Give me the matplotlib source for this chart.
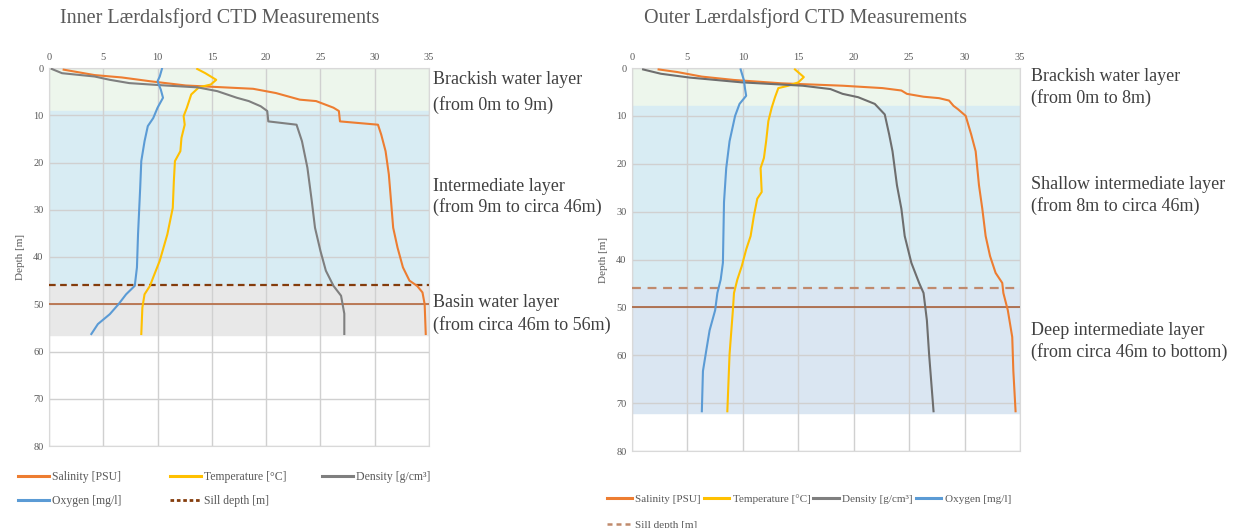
import numpy as np
import matplotlib.pyplot as plt
from matplotlib.lines import Line2D

plt.rcParams['font.family'] = ['Liberation Serif', 'DejaVu Serif']

# Inner fjord profiles (value, depth in m)
inner_sal_depth = [0.35, 1.5, 2.0, 2.8, 3.7, 4.4, 5.3, 6.7, 7.0, 8.4, 9.1, 11.3, 12.0, 14.1, 17.6, 22.5, 28.1, 33.8, 38.0, 42.2, 45.0, 46.1, 47.5, 50.0, 56.3]
inner_sal = [1.35, 4.2, 6.7, 9.3, 12.6, 18.8, 20.9, 23.1, 24.6, 26.2, 26.7, 26.8, 30.3, 30.6, 31.0, 31.3, 31.5, 31.7, 32.1, 32.6, 33.2, 33.9, 34.4, 34.6, 34.7]

inner_den_depth = [0.2, 1.1, 1.8, 2.5, 3.2, 3.7, 4.1, 4.9, 6.3, 7.0, 8.1, 9.1, 11.3, 12.0, 15.5, 21.1, 28.1, 33.8, 38.7, 42.9, 46.1, 48.2, 52.0, 56.3]
inner_den = [0.25, 1.2, 4.2, 5.6, 7.4, 10.7, 13.7, 15.5, 17.3, 18.4, 19.5, 20.1, 20.2, 22.8, 23.3, 23.8, 24.2, 24.5, 25.0, 25.5, 26.2, 26.9, 27.2, 27.2]

inner_oxy_depth = [0.2, 1.8, 2.8, 4.6, 6.3, 8.4, 10.6, 12.3, 15.5, 19.7, 25.3, 35.2, 42.2, 46.1, 47.9, 50.0, 52.1, 54.2, 56.3]
inner_oxy = [10.4, 10.2, 10.0, 10.3, 10.5, 10.0, 9.6, 9.1, 8.8, 8.5, 8.4, 8.2, 8.1, 7.9, 7.1, 6.4, 5.6, 4.5, 3.9]

inner_tmp_depth = [0.2, 1.1, 2.5, 3.5, 4.1, 5.6, 8.4, 10.2, 12.0, 14.8, 17.6, 19.7, 23.9, 29.6, 35.2, 40.8, 44.3, 46.1, 47.9, 50.7, 56.3]
inner_tmp = [13.65, 14.4, 15.4, 14.9, 13.8, 13.1, 12.7, 12.4, 12.5, 12.2, 12.1, 11.6, 11.5, 11.4, 10.9, 10.2, 9.6, 9.3, 8.8, 8.6, 8.5]

# Outer fjord profiles
outer_sal_depth = [0.3, 0.85, 1.8, 2.5, 3.2, 3.7, 4.2, 4.7, 5.4, 6.0, 6.3, 6.8, 7.9, 8.6, 10.0, 13.9, 17.4, 24.5, 29.4, 35.1, 39.3, 42.8, 44.9, 47.0, 50.6, 56.2, 63.3, 71.7]
outer_sal = [2.4, 4.1, 6.3, 9.2, 13.5, 19.0, 22.6, 24.3, 24.8, 26.3, 27.7, 28.6, 29.0, 29.4, 30.1, 30.6, 31.0, 31.3, 31.6, 31.9, 32.3, 32.8, 33.4, 33.5, 33.9, 34.3, 34.4, 34.6]

outer_den_depth = [0.3, 1.2, 2.0, 3.0, 3.7, 4.4, 5.4, 6.1, 7.5, 9.7, 13.9, 17.4, 24.5, 29.4, 35.1, 40.7, 44.9, 47.0, 52.7, 59.8, 71.7]
outer_den = [1.0, 2.6, 5.2, 9.9, 15.4, 17.9, 19.0, 20.4, 21.9, 22.8, 23.2, 23.5, 23.9, 24.3, 24.6, 25.2, 25.9, 26.3, 26.6, 26.8, 27.2]

outer_oxy_depth = [0.3, 2.6, 4.4, 5.8, 7.5, 10.0, 15.3, 20.9, 28.0, 40.7, 44.2, 47.0, 50.6, 54.8, 59.0, 63.3, 71.7]
outer_oxy = [9.8, 10.1, 10.2, 10.3, 9.7, 9.3, 8.8, 8.5, 8.3, 8.2, 8.0, 7.7, 7.5, 7.0, 6.7, 6.4, 6.3]

outer_tmp_depth = [0.3, 1.9, 3.0, 3.7, 4.2, 6.1, 8.3, 11.1, 15.3, 18.8, 20.9, 25.9, 27.3, 30.8, 35.1, 37.9, 41.4, 44.2, 47.0, 50.6, 59.8, 71.7]
outer_tmp = [14.7, 15.5, 15.0, 14.1, 13.2, 12.9, 12.6, 12.3, 12.1, 11.9, 11.6, 11.7, 11.3, 11.0, 10.7, 10.3, 9.9, 9.5, 9.2, 9.1, 8.8, 8.6]

sill_depth = 46
ref_depth = 50

C_SAL = '#ED7D31'
C_TMP = '#FFC000'
C_DEN = '#7F7F7F'
C_OXY = '#5B9BD5'
TXT = '#595959'

fig = plt.figure(figsize=(12.38, 5.28), dpi=100)
ax1 = fig.add_axes([49/1238, 1-446/528, 380/1238, 378/528])
ax2 = fig.add_axes([632/1238, 1-451/528, 388/1238, 383/528])


def setup(ax):
    ax.set_xlim(0, 35)
    ax.set_ylim(80, 0)
    ax.set_xticks(np.arange(0, 36, 5))
    ax.set_yticks(np.arange(0, 81, 10))
    ax.xaxis.tick_top()
    ax.tick_params(length=0, labelsize=7.5, colors=TXT, pad=4)
    ax.set_axisbelow(True)
    ax.grid(color='#D0D0D0', lw=1, zorder=0.5)
    for s in ax.spines.values():
        s.set_color('#D9D9D9')
    ax.set_ylabel('Depth [m]', fontsize=8, color=TXT, labelpad=6)


setup(ax1)
setup(ax2)

# layer bands
ax1.axhspan(0, 9, color='#EDF6EC', zorder=0.2)
ax1.axhspan(9, 46, color='#D8ECF3', zorder=0.2)
ax1.axhspan(46, 56.5, color='#E8E8E8', zorder=0.2)
ax2.axhspan(0, 8, color='#EDF6EC', zorder=0.2)
ax2.axhspan(8, 46, color='#D8ECF3', zorder=0.2)
ax2.axhspan(46, 72, color='#DAE6F2', zorder=0.2)

lw = 1.5
for ax, data in [(ax1, [(inner_sal, inner_sal_depth, C_SAL), (inner_tmp, inner_tmp_depth, C_TMP),
                        (inner_den, inner_den_depth, C_DEN), (inner_oxy, inner_oxy_depth, C_OXY)]),
                 (ax2, [(outer_sal, outer_sal_depth, C_SAL), (outer_tmp, outer_tmp_depth, C_TMP),
                        (outer_den, outer_den_depth, '#6E6E6E'), (outer_oxy, outer_oxy_depth, C_OXY)])]:
    for x, y, c in data:
        ax.plot(x, y, color=c, lw=lw, zorder=4)

ax1.axhline(sill_depth, color='#843C0C', lw=1.6, ls=(0, (3, 2)), zorder=3)
ax1.axhline(ref_depth, color='#B5683F', lw=1.2, zorder=3)
ax2.axhline(sill_depth, color='#C08A6C', lw=1.6, ls=(0, (4, 3)), zorder=3)
ax2.axhline(ref_depth, color='#A8613C', lw=1.2, zorder=3)

# titles
fig.text(60/1238, 1-18/528, 'Inner Lærdalsfjord CTD Measurements', fontsize=14.5, color=TXT, va='center')
fig.text(644/1238, 1-18/528, 'Outer Lærdalsfjord CTD Measurements', fontsize=14.5, color=TXT, va='center')

# layer descriptions
note = dict(fontsize=13, color='#404040', va='center', ha='left', clip_on=False)
ax1.text(35.4, 2.4, 'Brackish water layer', **note)
ax1.text(35.4, 7.9, '(from 0m to 9m)', **note)
ax1.text(35.4, 25.0, 'Intermediate layer', **note)
ax1.text(35.4, 29.4, '(from 9m to circa 46m)', **note)
ax1.text(35.4, 49.7, 'Basin water layer', **note)
ax1.text(35.4, 54.4, '(from circa 46m to 56m)', **note)
ax2.text(36.0, 1.7, 'Brackish water layer', **note)
ax2.text(36.0, 6.3, '(from 0m to 8m)', **note)
ax2.text(36.0, 24.3, 'Shallow intermediate layer', **note)
ax2.text(36.0, 28.9, '(from 8m to circa 46m)', **note)
ax2.text(36.0, 54.8, 'Deep intermediate layer', **note)
ax2.text(36.0, 59.4, '(from circa 46m to bottom)', **note)

# legends
h_sal = Line2D([], [], color=C_SAL, lw=2.2)
h_tmp = Line2D([], [], color=C_TMP, lw=2.2)
h_den = Line2D([], [], color=C_DEN, lw=2.2)
h_oxy = Line2D([], [], color=C_OXY, lw=2.2)
h_sill1 = Line2D([], [], color='#843C0C', lw=2.0, ls=(0, (1.3, 1.0)))
h_sill2 = Line2D([], [], color='#C08A6C', lw=1.8, ls=(0, (2.0, 1.6)))

leg_kw = dict(frameon=False, labelcolor=TXT, handletextpad=0.3, borderpad=0, loc='upper left')

# inner legend: three fixed columns
for x0, hs, ls in [(12, [h_sal, h_oxy], ['Salinity [PSU]', 'Oxygen [mg/l]']),
                   (164, [h_tmp, h_sill1], ['Temperature [°C]', 'Sill depth [m]']),
                   (316, [h_den], ['Density [g/cm³]'])]:
    fig.legend(hs, ls, bbox_to_anchor=(x0/1238, 1-465/528), fontsize=8.5, handlelength=2.6,
               labelspacing=1.05, **leg_kw)

fig.legend([h_sal, h_sill2, h_tmp, h_den, h_oxy],
           ['Salinity [PSU]', 'Sill depth [m]', 'Temperature [°C]', 'Density [g/cm³]', 'Oxygen [mg/l]'],
           ncol=4, bbox_to_anchor=(601/1238, 1-489/528), fontsize=8, handlelength=2.3,
           columnspacing=0.25, labelspacing=1.4, **leg_kw)

fig.savefig('out.png', dpi=100)
